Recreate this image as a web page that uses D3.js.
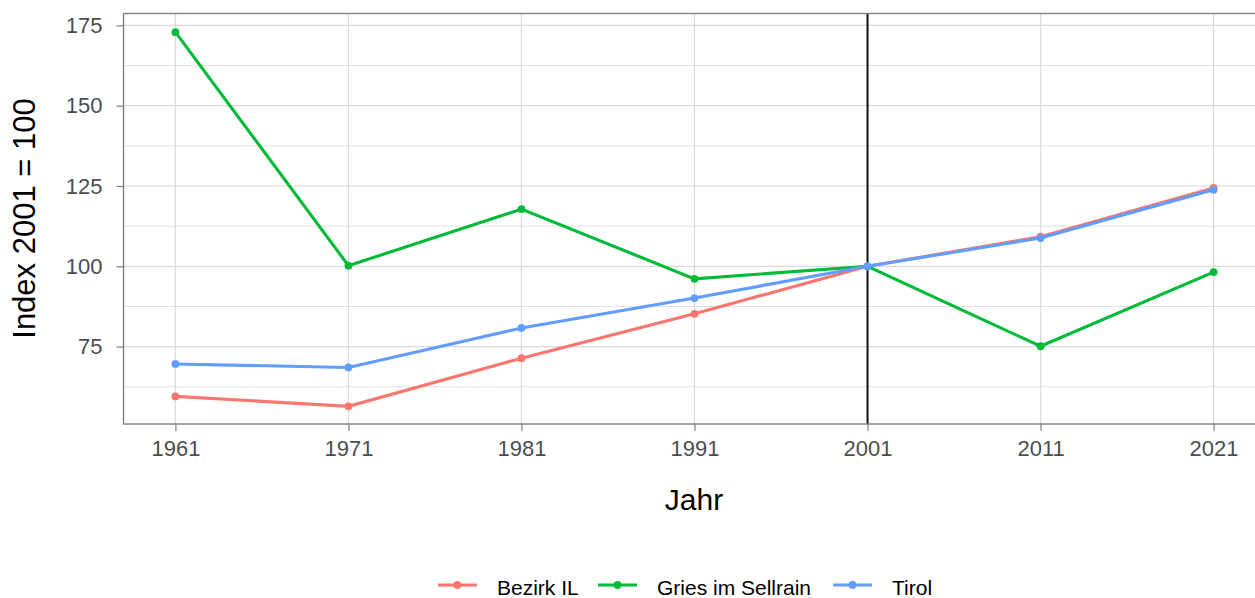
<!DOCTYPE html>
<html>
<head>
<meta charset="utf-8">
<script src="https://cdn.jsdelivr.net/npm/d3@7"></script>
<style>
  body { margin: 0; background: #fff; }
  svg { display: block; font-family: "Liberation Sans", Arial, sans-serif; }
</style>
</head>
<body>
<svg id="chart" width="1255" height="598"></svg>
<script>
// data
const years = [1961, 1971, 1981, 1991, 2001, 2011, 2021]
const seriesNames = ['Bezirk IL', 'Gries im Sellrain', 'Tirol']
const bezirkIL = [59.5, 56.4, 71.4, 85.2, 100, 109.2, 124.4]
const gries = [172.9, 100.2, 117.8, 96.1, 100, 75.1, 98.2]
const tirol = [69.6, 68.5, 80.8, 90.1, 100, 108.8, 123.8]
const yTicks = [75, 100, 125, 150, 175]
const yMinor = [62.5, 87.5, 112.5, 137.5, 162.5]
const colors = ['#F8766D', '#00BA38', '#619CFF']

const svg = d3.select('#chart')
const margin = { left: 123.5, right: -10.5, top: 13.5, bottom: 174 }
const W = 1255, H = 598

const x = d3.scaleLinear().domain([1958, 2024]).range([margin.left, W - margin.right])
const y = d3.scaleLinear().domain([50.9, 178.7]).range([H - margin.bottom, margin.top])

const series = [bezirkIL, gries, tirol].map((vals, i) => ({
  name: seriesNames[i],
  color: colors[i],
  values: years.map((yr, j) => ({ yr, v: vals[j] }))
}))

const grid = svg.append('g')
grid.selectAll('.minor').data(yMinor).enter().append('line')
  .attr('x1', x.range()[0]).attr('x2', x.range()[1])
  .attr('y1', d => y(d)).attr('y2', d => y(d))
  .attr('stroke', '#e0e0e0').attr('stroke-width', 1)
grid.selectAll('.major').data(yTicks).enter().append('line')
  .attr('x1', x.range()[0]).attr('x2', x.range()[1])
  .attr('y1', d => y(d)).attr('y2', d => y(d))
  .attr('stroke', '#d9d9d9').attr('stroke-width', 1.2)
grid.selectAll('.vmajor').data(years).enter().append('line')
  .attr('x1', d => x(d)).attr('x2', d => x(d))
  .attr('y1', y.range()[0]).attr('y2', y.range()[1])
  .attr('stroke', '#d9d9d9').attr('stroke-width', 1.2)

// vertical reference line at 2001
svg.append('line')
  .attr('x1', x(2001)).attr('x2', x(2001))
  .attr('y1', y.range()[0]).attr('y2', y.range()[1])
  .attr('stroke', '#111').attr('stroke-width', 2)

const line = d3.line().x(d => x(d.yr)).y(d => y(d.v))
const g = svg.selectAll('.series').data(series).enter().append('g')
g.append('path')
  .attr('d', d => line(d.values))
  .attr('fill', 'none')
  .attr('stroke', d => d.color)
  .attr('stroke-width', 3.1)
g.selectAll('circle').data(d => d.values.map(p => ({ ...p, color: d.color }))).enter()
  .append('circle')
  .attr('cx', d => x(d.yr)).attr('cy', d => y(d.v)).attr('r', 3.9)
  .attr('fill', d => d.color)

// panel border
svg.append('rect')
  .attr('x', margin.left).attr('y', margin.top)
  .attr('width', x.range()[1] - margin.left).attr('height', y.range()[0] - margin.top)
  .attr('fill', 'none').attr('stroke', '#7f7f7f').attr('stroke-width', 1.4)

// axes
const xAxis = svg.append('g')
  .attr('transform', `translate(0,${y.range()[0]})`)
  .call(d3.axisBottom(x).tickValues(years).tickFormat(d3.format('d')).tickSize(7).tickPadding(9))
const yAxis = svg.append('g')
  .attr('transform', `translate(${margin.left},0)`)
  .call(d3.axisLeft(y).tickValues(yTicks).tickSize(7).tickPadding(14))
;[xAxis, yAxis].forEach(a => {
  a.select('.domain').remove()
  a.selectAll('.tick line').attr('stroke', '#7f7f7f').attr('stroke-width', 1.2)
  a.selectAll('.tick text').attr('fill', '#4d4d4d')
    .attr('font-size', 22)
    .attr('font-family', '"Liberation Sans", Arial, sans-serif')
})

// axis titles
svg.append('text')
  .attr('x', 694).attr('y', 510)
  .attr('text-anchor', 'middle')
  .attr('font-size', 30).attr('fill', '#000')
  .text('Jahr')
svg.append('text')
  .attr('transform', `translate(35,218.5) rotate(-90)`)
  .attr('text-anchor', 'middle')
  .attr('font-size', 31).attr('fill', '#000')
  .text('Index 2001 = 100')

// legend
const legendX = [438, 598, 833]
const leg = svg.selectAll('.legend').data(series).enter().append('g')
  .attr('transform', (d, i) => `translate(${legendX[i]},585)`)
leg.append('line')
  .attr('x1', 0).attr('x2', 39).attr('y1', 0).attr('y2', 0)
  .attr('stroke', d => d.color).attr('stroke-width', 3.1)
leg.append('circle').attr('cx', 19.5).attr('cy', 0).attr('r', 3.9).attr('fill', d => d.color)
leg.append('text')
  .attr('x', 59).attr('y', 10)
  .attr('font-size', 21).attr('fill', '#000')
  .text(d => d.name)
</script>
</body>
</html>
